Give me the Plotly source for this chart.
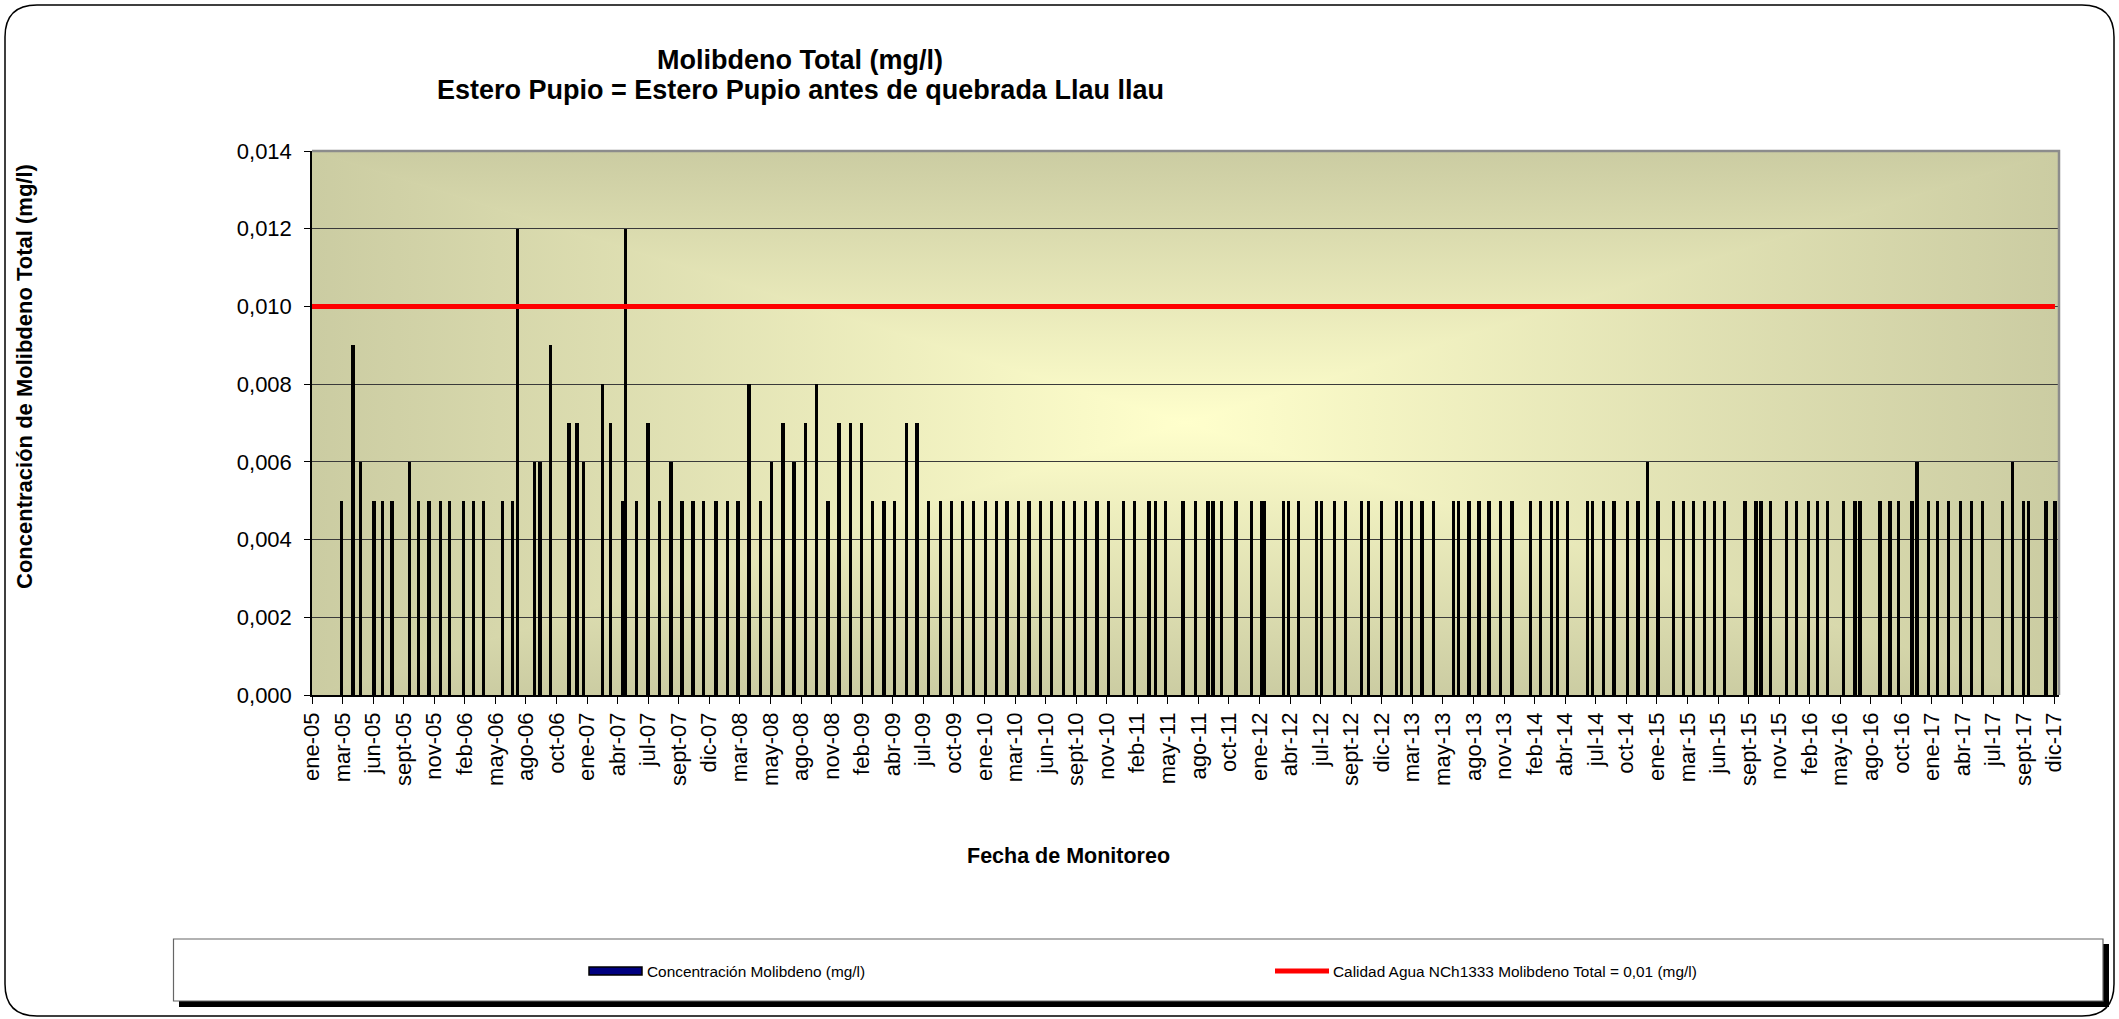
import base64
from datetime import date, timedelta
import plotly.graph_objects as go

# ---------------- data ----------------
TITLE_1 = "Molibdeno Total (mg/l)"
TITLE_2 = "Estero Pupio = Estero Pupio antes de quebrada Llau llau"
Y_TITLE = "Concentración de Molibdeno Total (mg/l)"
X_TITLE = "Fecha de Monitoreo"
SERIES_NAME = "Concentración Molibdeno (mg/l)"
NORM_NAME = "Calidad Agua NCh1333 Molibdeno Total = 0,01 (mg/l)"

SAMPLE_DATES = [
    "2005-03-23", "2005-04-22", "2005-05-13", "2005-06-18", "2005-07-12", "2005-08-06",
    "2005-09-23", "2005-10-18", "2005-11-15", "2005-12-16", "2006-01-10", "2006-02-17",
    "2006-03-15", "2006-04-12", "2006-06-02", "2006-06-29", "2006-07-13", "2006-08-29",
    "2006-09-12", "2006-10-10", "2006-11-30", "2006-12-22", "2007-01-09", "2007-02-28",
    "2007-03-22", "2007-04-24", "2007-05-02", "2007-06-02", "2007-07-02", "2007-08-03",
    "2007-09-03", "2007-10-03", "2007-11-02", "2007-12-01", "2008-01-03", "2008-02-03",
    "2008-03-03", "2008-04-02", "2008-05-03", "2008-06-02", "2008-07-03", "2008-08-02",
    "2008-09-02", "2008-10-02", "2008-11-02", "2008-12-02", "2009-01-02", "2009-02-02",
    "2009-03-03", "2009-04-03", "2009-05-02", "2009-06-03", "2009-07-02", "2009-08-03",
    "2009-09-03", "2009-10-03", "2009-11-03", "2009-12-02", "2010-01-03", "2010-02-02",
    "2010-03-03", "2010-04-03", "2010-05-02", "2010-06-02", "2010-07-03", "2010-08-03",
    "2010-09-03", "2010-10-03", "2010-11-03", "2010-12-03", "2011-01-13", "2011-02-13",
    "2011-03-24", "2011-04-11", "2011-05-07", "2011-06-24", "2011-07-29", "2011-08-31",
    "2011-09-14", "2011-10-06", "2011-11-15", "2011-12-28", "2012-01-25", "2012-02-01",
    "2012-03-24", "2012-04-05", "2012-05-03", "2012-06-20", "2012-07-04", "2012-08-08",
    "2012-09-07", "2012-10-21", "2012-11-09", "2012-12-14", "2013-01-24", "2013-02-07",
    "2013-03-06", "2013-04-03", "2013-05-04", "2013-06-27", "2013-07-11", "2013-08-09",
    "2013-09-05", "2013-10-02", "2013-11-02", "2013-12-04", "2014-01-23", "2014-02-19",
    "2014-03-20", "2014-04-07", "2014-05-04", "2014-06-26", "2014-07-10", "2014-08-10",
    "2014-09-07", "2014-10-13", "2014-11-11", "2014-12-06", "2015-01-04", "2015-02-15",
    "2015-03-14", "2015-04-10", "2015-05-11", "2015-06-07", "2015-07-04", "2015-08-28",
    "2015-09-27", "2015-10-11", "2015-11-06", "2015-12-19", "2016-01-15", "2016-02-16",
    "2016-03-12", "2016-04-09", "2016-05-22", "2016-06-22", "2016-07-06", "2016-08-29",
    "2016-09-25", "2016-10-18", "2016-11-24", "2016-12-07", "2017-01-07", "2017-02-01",
    "2017-03-03", "2017-04-04", "2017-05-04", "2017-06-04", "2017-07-28", "2017-08-24",
    "2017-09-23", "2017-10-07", "2017-11-23", "2017-12-17",
]

MO_VALUES = [
    0.005, 0.009, 0.006, 0.005, 0.005, 0.005,
    0.006, 0.005, 0.005, 0.005, 0.005, 0.005,
    0.005, 0.005, 0.005, 0.005, 0.012, 0.006,
    0.006, 0.009, 0.007, 0.007, 0.006, 0.008,
    0.007, 0.005, 0.012, 0.005, 0.007, 0.005,
    0.006, 0.005, 0.005, 0.005, 0.005, 0.005,
    0.005, 0.008, 0.005, 0.006, 0.007, 0.006,
    0.007, 0.008, 0.005, 0.007, 0.007, 0.007,
    0.005, 0.005, 0.005, 0.007, 0.007, 0.005,
    0.005, 0.005, 0.005, 0.005, 0.005, 0.005,
    0.005, 0.005, 0.005, 0.005, 0.005, 0.005,
    0.005, 0.005, 0.005, 0.005, 0.005, 0.005,
    0.005, 0.005, 0.005, 0.005, 0.005, 0.005,
    0.005, 0.005, 0.005, 0.005, 0.005, 0.005,
    0.005, 0.005, 0.005, 0.005, 0.005, 0.005,
    0.005, 0.005, 0.005, 0.005, 0.005, 0.005,
    0.005, 0.005, 0.005, 0.005, 0.005, 0.005,
    0.005, 0.005, 0.005, 0.005, 0.005, 0.005,
    0.005, 0.005, 0.005, 0.005, 0.005, 0.005,
    0.005, 0.005, 0.005, 0.006, 0.005, 0.005,
    0.005, 0.005, 0.005, 0.005, 0.005, 0.005,
    0.005, 0.005, 0.005, 0.005, 0.005, 0.005,
    0.005, 0.005, 0.005, 0.005, 0.005, 0.005,
    0.005, 0.005, 0.005, 0.006, 0.005, 0.005,
    0.005, 0.005, 0.005, 0.005, 0.005, 0.006,
    0.005, 0.005, 0.005, 0.005,
]

NORM_VALUE = 0.01

TICK_LABELS = [
    "ene-05", "mar-05", "jun-05", "sept-05", "nov-05", "feb-06", "may-06", "ago-06",
    "oct-06", "ene-07", "abr-07", "jul-07", "sept-07", "dic-07", "mar-08", "may-08",
    "ago-08", "nov-08", "feb-09", "abr-09", "jul-09", "oct-09", "ene-10", "mar-10",
    "jun-10", "sept-10", "nov-10", "feb-11", "may-11", "ago-11", "oct-11", "ene-12",
    "abr-12", "jul-12", "sept-12", "dic-12", "mar-13", "may-13", "ago-13", "nov-13",
    "feb-14", "abr-14", "jul-14", "oct-14", "ene-15", "mar-15", "jun-15", "sept-15",
    "nov-15", "feb-16", "may-16", "ago-16", "oct-16", "ene-17", "abr-17", "jul-17",
    "sept-17", "dic-17",
]
AXIS_START = date(2005, 1, 1)
AXIS_END = date(2017, 12, 28)
TICK_STEP_DAYS = 83          # Excel major unit (days)
Y_MAX = 0.014
Y_STEP = 0.002

# ---------------- layout geometry ----------------
W, H = 2119, 1019
ML, MR, MT, MB = 312, 60, 151, 324
PW, PH = W - ML - MR, H - MT - MB
FONT = "Liberation Sans, Arial, sans-serif"


def px(x):
    return (x - ML) / PW


def py(y):
    return (H - MB - y) / PH


tick_vals = [(AXIS_START + timedelta(days=TICK_STEP_DAYS * i)).isoformat()
             for i in range(len(TICK_LABELS))]

# background: Excel "from centre" rectangular gradient, as SVG
EDGE, CENTER = "#CBCCA2", "#FFFFCC"
cx, cy = PW / 2, PH / 2
svg = f'''<svg xmlns="http://www.w3.org/2000/svg" width="{PW}" height="{PH}" viewBox="0 0 {PW} {PH}" preserveAspectRatio="none">
<defs>
<linearGradient id="gt" gradientUnits="userSpaceOnUse" x1="0" y1="0" x2="0" y2="{cy}"><stop offset="0" stop-color="{EDGE}"/><stop offset="1" stop-color="{CENTER}"/></linearGradient>
<linearGradient id="gb" gradientUnits="userSpaceOnUse" x1="0" y1="{PH}" x2="0" y2="{cy}"><stop offset="0" stop-color="{EDGE}"/><stop offset="1" stop-color="{CENTER}"/></linearGradient>
<linearGradient id="gl" gradientUnits="userSpaceOnUse" x1="0" y1="0" x2="{cx}" y2="0"><stop offset="0" stop-color="{EDGE}"/><stop offset="1" stop-color="{CENTER}"/></linearGradient>
<linearGradient id="gr" gradientUnits="userSpaceOnUse" x1="{PW}" y1="0" x2="{cx}" y2="0"><stop offset="0" stop-color="{EDGE}"/><stop offset="1" stop-color="{CENTER}"/></linearGradient>
</defs>
<rect x="0" y="0" width="{PW}" height="{PH}" fill="{CENTER}"/>
<polygon points="0,0 {PW},0 {cx},{cy}" fill="url(#gt)" stroke="url(#gt)" stroke-width="1"/>
<polygon points="0,{PH} {PW},{PH} {cx},{cy}" fill="url(#gb)" stroke="url(#gb)" stroke-width="1"/>
<polygon points="0,0 0,{PH} {cx},{cy}" fill="url(#gl)" stroke="url(#gl)" stroke-width="1"/>
<polygon points="{PW},0 {PW},{PH} {cx},{cy}" fill="url(#gr)" stroke="url(#gr)" stroke-width="1"/>
</svg>'''
bg_src = "data:image/svg+xml;base64," + base64.b64encode(svg.encode()).decode()

fig = go.Figure()

fig.add_trace(go.Bar(
    x=SAMPLE_DATES, y=MO_VALUES, name=SERIES_NAME,
    width=9 * 86400000,
    marker=dict(color="#000000", line=dict(width=0)),
    showlegend=False,
))

fig.add_trace(go.Scatter(
    x=[AXIS_START.isoformat(), SAMPLE_DATES[-1]], y=[NORM_VALUE, NORM_VALUE],
    mode="lines", name=NORM_NAME,
    line=dict(color="#FF0000", width=5),
    showlegend=False,
))

shapes = []
# outer rounded chart border
r = 32
x0, y0, x1, y1 = 5, 5, 2114, 1016
path = (f"M {px(x0 + r)},{py(y0)} L {px(x1 - r)},{py(y0)} "
        f"Q {px(x1)},{py(y0)} {px(x1)},{py(y0 + r)} L {px(x1)},{py(y1 - r)} "
        f"Q {px(x1)},{py(y1)} {px(x1 - r)},{py(y1)} L {px(x0 + r)},{py(y1)} "
        f"Q {px(x0)},{py(y1)} {px(x0)},{py(y1 - r)} L {px(x0)},{py(y0 + r)} "
        f"Q {px(x0)},{py(y0)} {px(x0 + r)},{py(y0)} Z")
shapes.append(dict(type="path", xref="paper", yref="paper", path=path,
                   line=dict(color="#000000", width=1.5), layer="below"))
# plot-area grey border (top & right)
shapes.append(dict(type="path", xref="paper", yref="paper",
                   path="M 0,1 L 1,1 L 1,0", line=dict(color="#8C8C8C", width=2.5),
                   layer="above"))
# legend shadow + box
shapes.append(dict(type="rect", xref="paper", yref="paper",
                   x0=px(179), x1=px(2109), y0=py(944), y1=py(1007),
                   fillcolor="#000000", line=dict(width=0), layer="above"))
shapes.append(dict(type="rect", xref="paper", yref="paper",
                   x0=px(173.5), x1=px(2103), y0=py(939), y1=py(1001),
                   fillcolor="#FFFFFF", line=dict(color="#666666", width=1.2), layer="above"))
# legend swatches
LEG_Y = 971
shapes.append(dict(type="rect", xref="paper", yref="paper",
                   x0=px(589), x1=px(642), y0=py(LEG_Y - 4), y1=py(LEG_Y + 4),
                   fillcolor="#000080", line=dict(color="#000000", width=1.5), layer="above"))
shapes.append(dict(type="line", xref="paper", yref="paper",
                   x0=px(1275), x1=px(1329), y0=py(LEG_Y), y1=py(LEG_Y),
                   line=dict(color="#FF0000", width=5), layer="above"))

annotations = [
    dict(text=f"<b>{TITLE_1}</b>", x=px(800), y=py(59.5), xref="paper", yref="paper",
         showarrow=False, xanchor="center", yanchor="middle",
         font=dict(family=FONT, size=27, color="#000000")),
    dict(text=f"<b>{TITLE_2}</b>", x=px(800), y=py(90.5), xref="paper", yref="paper",
         showarrow=False, xanchor="center", yanchor="middle",
         font=dict(family=FONT, size=27, color="#000000")),
    dict(text=f"<b>{Y_TITLE}</b>", x=px(24), y=py(377), xref="paper", yref="paper",
         showarrow=False, xanchor="center", yanchor="middle", textangle=-90,
         font=dict(family=FONT, size=22, color="#000000")),
    dict(text=f"<b>{X_TITLE}</b>", x=px(1068), y=py(855.5), xref="paper", yref="paper",
         showarrow=False, xanchor="center", yanchor="middle",
         font=dict(family=FONT, size=21.5, color="#000000")),
    dict(text=SERIES_NAME, x=px(645), y=py(LEG_Y), xref="paper", yref="paper",
         showarrow=False, xanchor="left", yanchor="middle",
         font=dict(family=FONT, size=15.4, color="#000000")),
    dict(text=NORM_NAME, x=px(1331), y=py(LEG_Y), xref="paper", yref="paper",
         showarrow=False, xanchor="left", yanchor="middle",
         font=dict(family=FONT, size=15.4, color="#000000")),
]

x_range = [AXIS_START.isoformat(), AXIS_END.isoformat()]

fig.update_layout(
    width=W, height=H,
    margin=dict(l=ML, r=MR, t=MT, b=MB, pad=0),
    paper_bgcolor="#FFFFFF",
    plot_bgcolor="rgba(0,0,0,0)",
    separators=",.",
    bargap=0,
    font=dict(family=FONT, color="#000000"),
    images=[dict(source=bg_src, xref="paper", yref="paper", x=0, y=1, sizex=1, sizey=1,
                 xanchor="left", yanchor="top", sizing="stretch", layer="below")],
    shapes=shapes,
    annotations=annotations,
    xaxis=dict(
        type="date", range=x_range,
        tickmode="array", tickvals=tick_vals, ticktext=TICK_LABELS,
        tickangle=-90, tickfont=dict(family=FONT, size=22, color="#000000"),
        ticks="outside", ticklen=7, tickwidth=1.2, tickcolor="#000000",
        showline=True, linecolor="#000000", linewidth=1.5,
        showgrid=False, zeroline=False,
    ),
    xaxis2=dict(
        type="date", range=x_range, overlaying="x", anchor="y", side="bottom",
        tickmode="array", tickvals=tick_vals, showticklabels=False,
        ticks="inside", ticklen=7, tickwidth=1.2, tickcolor="#000000",
        showline=False, showgrid=False, zeroline=False,
    ),
    yaxis=dict(
        range=[0, Y_MAX], tick0=0, dtick=Y_STEP, tickformat=".3f",
        tickfont=dict(family=FONT, size=22, color="#000000"),
        ticks="outside", ticklen=6, tickwidth=1.2, tickcolor="#000000",
        ticklabelstandoff=8,
        showline=True, linecolor="#000000", linewidth=1.5,
        showgrid=True, gridcolor="#3A3A3A", gridwidth=1,
        zeroline=False,
    ),
)

fig.write_html("out.html", config={"displayModeBar": False},
               post_script="document.body.style.margin='0';")
